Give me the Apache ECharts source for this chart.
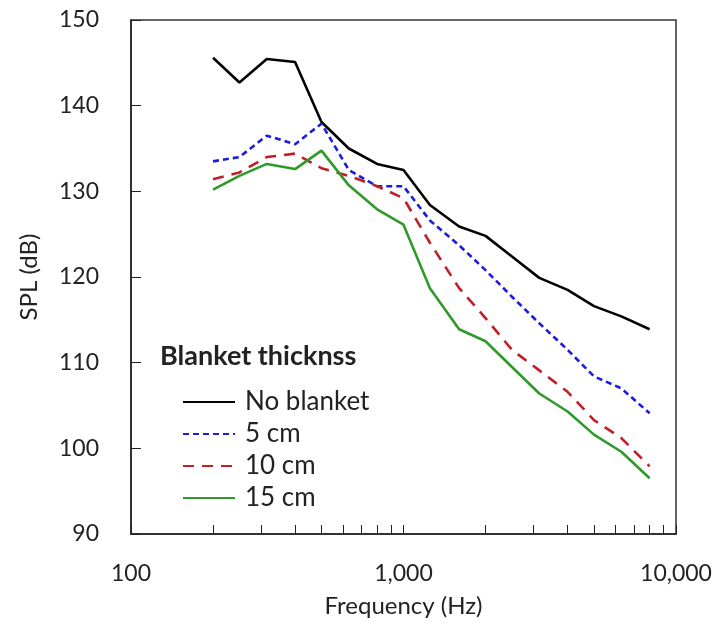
<!DOCTYPE html>
<html>
<head>
<meta charset="utf-8">
<script src="https://cdn.jsdelivr.net/npm/echarts@6/dist/echarts.min.js"></script>
<style>html,body{margin:0;padding:0;background:#fff;}#c{width:717px;height:626px;}</style>
</head>
<body>
<div id="c"></div>
<script>
var frequencies = [200, 250, 315, 400, 500, 630, 800, 1000, 1250, 1600, 2000, 2500, 3150, 4000, 5000, 6300, 8000];
var noBlanket = [145.6, 142.7, 145.45, 145.1, 138.1, 135.0, 133.2, 132.5, 128.4, 125.9, 124.8, 122.4, 119.9, 118.5, 116.6, 115.4, 113.9];
var cm5 = [133.5, 134.0, 136.5, 135.5, 137.9, 132.5, 130.6, 130.6, 126.6, 123.7, 120.8, 117.7, 114.6, 111.5, 108.4, 107.0, 104.1];
var cm10 = [131.4, 132.2, 134.0, 134.4, 132.7, 131.8, 130.6, 129.2, 124.0, 118.7, 115.2, 111.5, 109.1, 106.6, 103.3, 101.2, 97.9];
var cm15 = [130.2, 131.8, 133.2, 132.6, 134.75, 130.7, 127.9, 126.1, 118.7, 113.9, 112.5, 109.5, 106.4, 104.3, 101.6, 99.6, 96.5];
var seriesNames = ['No blanket', '5 cm', '10 cm', '15 cm'];
var xTickValues = [100, 200, 300, 400, 500, 600, 700, 800, 900, 1000, 2000, 3000, 4000, 5000, 6000, 7000, 8000, 9000, 10000];
var xLabelValues = [100, 1000, 10000];

function pairs(ys) { return frequencies.map(function (f, i) { return [f, ys[i]]; }); }
var font = 'Lato, "Liberation Sans", sans-serif';
var chart = echarts.init(document.getElementById('c'));
chart.setOption({
  animation: false,
  backgroundColor: '#fff',
  title: {
    text: 'Blanket thicknss', left: 160, top: 343, padding: 0,
    textStyle: { fontFamily: font, fontWeight: 'bold', fontSize: 27, color: '#222' }
  },
  legend: {
    orient: 'vertical', left: 182, top: 389, padding: 0, itemWidth: 52, itemHeight: 14, itemGap: 6,
    data: seriesNames,
    itemStyle: { opacity: 0, color: 'transparent', borderWidth: 0 },
    textStyle: { fontFamily: font, fontSize: 26, lineHeight: 26, color: '#222', padding: [0, 0, 0, 5] }
  },
  grid: { left: 131, right: 41, top: 20, bottom: 92, show: true, borderColor: '#333', borderWidth: 1.5, backgroundColor: 'transparent' },
  xAxis: {
    type: 'log', logBase: 10, min: 100, max: 10000,
    name: 'Frequency (Hz)', nameLocation: 'middle', nameGap: 60,
    nameTextStyle: { fontFamily: font, fontSize: 24, color: '#222' },
    axisLine: { lineStyle: { color: '#222', width: 1.5 } },
    axisTick: { inside: true, length: 9, customValues: xTickValues, lineStyle: { color: '#222', width: 1 } },
    axisLabel: { customValues: xLabelValues, margin: 28, fontFamily: font, fontSize: 23, color: '#222',
      formatter: function (v) { return Number(v).toLocaleString('en-US'); } },
    splitLine: { show: false }, minorTick: { show: false }
  },
  yAxis: {
    type: 'value', min: 90, max: 150, interval: 10,
    name: 'SPL (dB)', nameLocation: 'middle', nameGap: 90,
    nameTextStyle: { fontFamily: font, fontSize: 24, color: '#222' },
    axisLine: { show: true, lineStyle: { color: '#222', width: 1.5 } },
    axisTick: { show: true, inside: true, length: 10, lineStyle: { color: '#222', width: 1 } },
    axisLabel: { margin: 32, fontFamily: font, fontSize: 23, color: '#222' },
    splitLine: { show: false }
  },
  series: [
    { name: seriesNames[0], type: 'line', symbol: 'none', data: pairs(noBlanket), color: '#000', lineStyle: { color: '#000', width: 2.6 } },
    { name: seriesNames[1], type: 'line', symbol: 'none', data: pairs(cm5), color: '#1c1ce0', lineStyle: { color: '#1c1ce0', width: 2.6, type: [6, 4] } },
    { name: seriesNames[2], type: 'line', symbol: 'none', data: pairs(cm10), color: '#c01f2a', lineStyle: { color: '#c01f2a', width: 2.6, type: [11, 8] } },
    { name: seriesNames[3], type: 'line', symbol: 'none', data: pairs(cm15), color: '#2f9a2a', lineStyle: { color: '#2f9a2a', width: 2.6 } }
  ]
});
</script>
</body>
</html>
